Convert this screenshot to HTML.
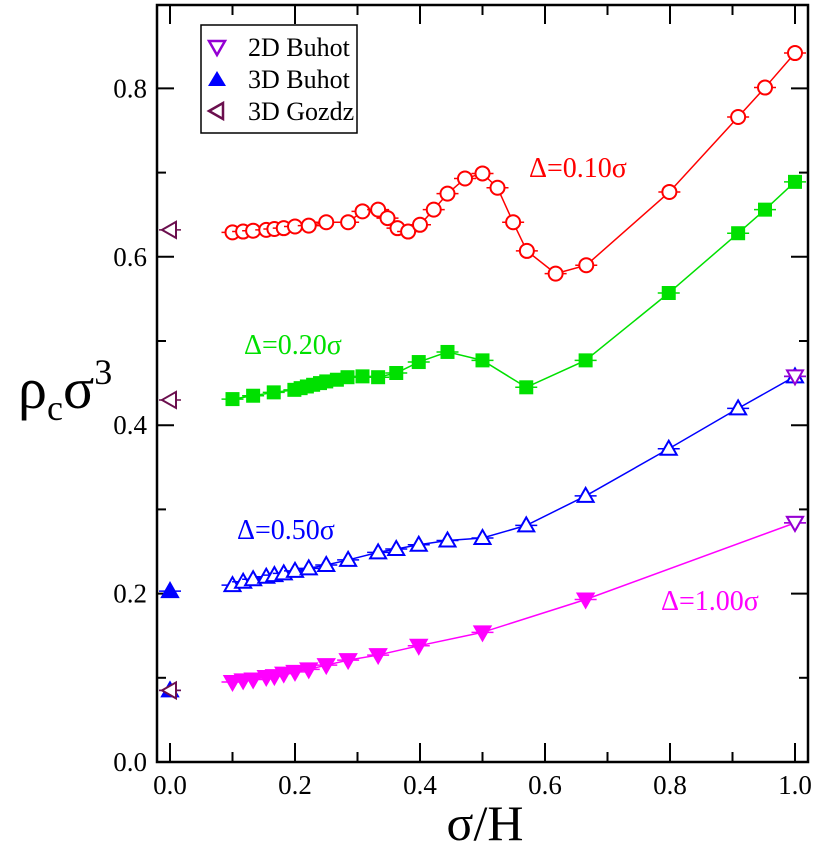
<!DOCTYPE html>
<html><head><meta charset="utf-8"><style>
body{margin:0;background:#fff;}
svg{display:block;font-family:"Liberation Serif",serif;}
</style></head><body>
<svg id="chart" width="817" height="846" viewBox="0 0 817 846"></svg>
<script>
const redX=[0.1,0.117,0.133,0.154,0.167,0.182,0.2,0.222,0.25,0.285,0.308,0.333,0.348,0.364,0.381,0.4,0.422,0.444,0.472,0.5,0.524,0.549,0.571,0.617,0.666,0.799,0.909,0.952,1.0];
const redY=[0.629,0.630,0.631,0.632,0.633,0.634,0.636,0.637,0.641,0.641,0.654,0.656,0.646,0.634,0.630,0.638,0.656,0.675,0.693,0.699,0.682,0.641,0.607,0.580,0.590,0.677,0.766,0.801,0.842];
const greenX=[0.1,0.133,0.166,0.199,0.209,0.219,0.229,0.240,0.25,0.267,0.284,0.308,0.333,0.362,0.398,0.444,0.5,0.570,0.665,0.798,0.909,0.952,1.0];
const greenY=[0.431,0.435,0.439,0.442,0.444,0.446,0.448,0.450,0.452,0.454,0.457,0.458,0.457,0.462,0.475,0.487,0.477,0.445,0.477,0.557,0.628,0.656,0.689];
const blueX=[0.1,0.117,0.133,0.154,0.167,0.182,0.2,0.222,0.25,0.285,0.333,0.362,0.398,0.444,0.5,0.570,0.665,0.798,0.909,1.0];
const blueY=[0.210,0.214,0.217,0.220,0.222,0.224,0.227,0.230,0.234,0.240,0.249,0.253,0.258,0.263,0.266,0.281,0.316,0.372,0.420,0.458];
const magX=[0.1,0.117,0.133,0.154,0.167,0.182,0.2,0.222,0.25,0.285,0.333,0.398,0.5,0.665,1.0];
const magY=[0.095,0.097,0.098,0.101,0.102,0.105,0.107,0.110,0.115,0.121,0.127,0.138,0.154,0.193,0.284];
const gozdzY=[0.632,0.43,0.085];
const buhot3DY=[0.203,0.085];
const buhot2DY=[0.458,0.284];
const xTicks=[0,0.2,0.4,0.6,0.8,1.0];
const xTickLabels=["0.0","0.2","0.4","0.6","0.8","1.0"];
const yTicks=[0,0.2,0.4,0.6,0.8];
const yTickLabels=["0.0","0.2","0.4","0.6","0.8"];

const NS="http://www.w3.org/2000/svg";
const svg=document.getElementById('chart');
const L=157,R=808,T=5,B=762;
function sx(v){return 170+v*625;}
function sy(v){return 762-v*842;}
function mk(tag,attrs,parent){const e=document.createElementNS(NS,tag);for(const k in attrs)e.setAttribute(k,attrs[k]);(parent||svg).appendChild(e);return e;}

const tg=mk('g',{stroke:'#000','stroke-width':2});


for(let i=0;i<=10;i++){const v=i/10;const len=i%2==0?19:10;const x=sx(v);
 mk('line',{x1:x,y1:B,x2:x,y2:B-len},tg);mk('line',{x1:x,y1:T,x2:x,y2:T+len},tg);}
for(let i=1;i<=8;i++){const v=i/10;const len=i%2==0?17:9;const y=sy(v);
 mk('line',{x1:L,y1:y,x2:L+len,y2:y},tg);mk('line',{x1:R,y1:y,x2:R-len,y2:y},tg);}
const frame=mk('rect',{x:L,y:T,width:R-L,height:B-T,fill:'none',stroke:'#000','stroke-width':2.5});



xTicks.forEach((v,i)=>{const t=mk('text',{x:sx(v),y:794,'text-anchor':'middle','font-size':27});t.textContent=xTickLabels[i];
 
 });
yTicks.forEach((v,i)=>{const t=mk('text',{x:147,y:sy(v)+9,'text-anchor':'end','font-size':27});t.textContent=yTickLabels[i];
 
 });

function marker(g,type,x,y,color,s){
 const X=sx(x),Y=sy(y);
 mk('line',{x1:X-11,y1:Y,x2:X+11,y2:Y,stroke:color,'stroke-width':1.5},g);
 if(type==='circle')mk('circle',{cx:X,cy:Y,r:7,fill:'#fff',stroke:color,'stroke-width':2},g);
 else if(type==='square')mk('rect',{x:X-7,y:Y-7,width:14,height:14,fill:color},g);
 else if(type==='up')mk('polygon',{points:`${X},${Y-8} ${X-8},${Y+6} ${X+8},${Y+6}`,fill:s?color:'#fff',stroke:color,'stroke-width':2},g);
 else if(type==='down')mk('polygon',{points:`${X},${Y+8} ${X-8},${Y-6} ${X+8},${Y-6}`,fill:s?color:'#fff',stroke:color,'stroke-width':2},g);
 else if(type==='left')mk('polygon',{points:`${X-8},${Y} ${X+6},${Y-8} ${X+6},${Y+8}`,fill:'#fff',stroke:color,'stroke-width':2},g);
}
function series(name,xs,ys,color,type,filled){
 const g=mk('g',{});
 
 
 mk('polyline',{points:xs.map((x,i)=>sx(x)+','+sy(ys[i])).join(' '),fill:'none',stroke:color,'stroke-width':1.5},g);
 xs.forEach((x,i)=>marker(g,type,x,ys[i],color,filled));
}
series('series-delta-0.10',redX,redY,'#ff0000','circle',false);
series('series-delta-0.20',greenX,greenY,'#00e000','square',true);
series('series-delta-0.50',blueX,blueY,'#0000ff','up',false);
series('series-delta-1.00',magX,magY,'#ff00ff','down',true);

const rg=mk('g',{});


buhot3DY.forEach(y=>marker(rg,'up',0,y,'#0000ff',true));
gozdzY.forEach(y=>marker(rg,'left',0,y,'#6b0f4e',false));
buhot2DY.forEach(y=>marker(rg,'down',1,y,'#9400d3',false));

function label(txt,x,y,color,name){const t=mk('text',{x:x,y:y,'font-size':28,fill:color});t.textContent=txt;
 
 }
label('Δ=0.10σ',529,177,'#ff0000','label-delta-0.10');
label('Δ=0.20σ',244,354,'#00e000','label-delta-0.20');
label('Δ=0.50σ',237,539,'#0000ff','label-delta-0.50');
label('Δ=1.00σ',661,610,'#ff00ff','label-delta-1.00');

const lg=mk('g',{});


mk('rect',{x:201,y:25,width:156,height:108,fill:'#fff',stroke:'#000','stroke-width':1.5},lg);
const legNames=['2D Buhot','3D Buhot','3D Gozdz'];
const legY=[47,79,111];
const le=[['down','#9400d3',false],['up','#0000ff',true],['left','#6b0f4e',false]];
legNames.forEach((n,i)=>{const e=mk('g',{},lg);
 
 
 const X=217,Y=legY[i],c=le[i][1];
 if(le[i][0]==='down')mk('polygon',{points:`${X},${Y+8} ${X-8},${Y-6} ${X+8},${Y-6}`,fill:'#fff',stroke:c,'stroke-width':2.5},e);
 if(le[i][0]==='up')mk('polygon',{points:`${X},${Y-8} ${X-9},${Y+7} ${X+9},${Y+7}`,fill:c},e);
 if(le[i][0]==='left')mk('polygon',{points:`${X-8},${Y} ${X+6},${Y-8} ${X+6},${Y+8}`,fill:'#fff',stroke:c,'stroke-width':2.5},e);
 const t=mk('text',{x:248,y:Y+9,'font-size':26},e);t.textContent=n;});

const xt=mk('text',{x:485,y:840,'text-anchor':'middle','font-size':50});xt.textContent='σ/H';


const yt=mk('text',{x:18,y:408,'font-size':58});


yt.innerHTML='ρ<tspan font-size="36" dy="12">c</tspan><tspan dy="-12">σ</tspan><tspan font-size="36" dy="-24">3</tspan>';
</script>
</body></html>
